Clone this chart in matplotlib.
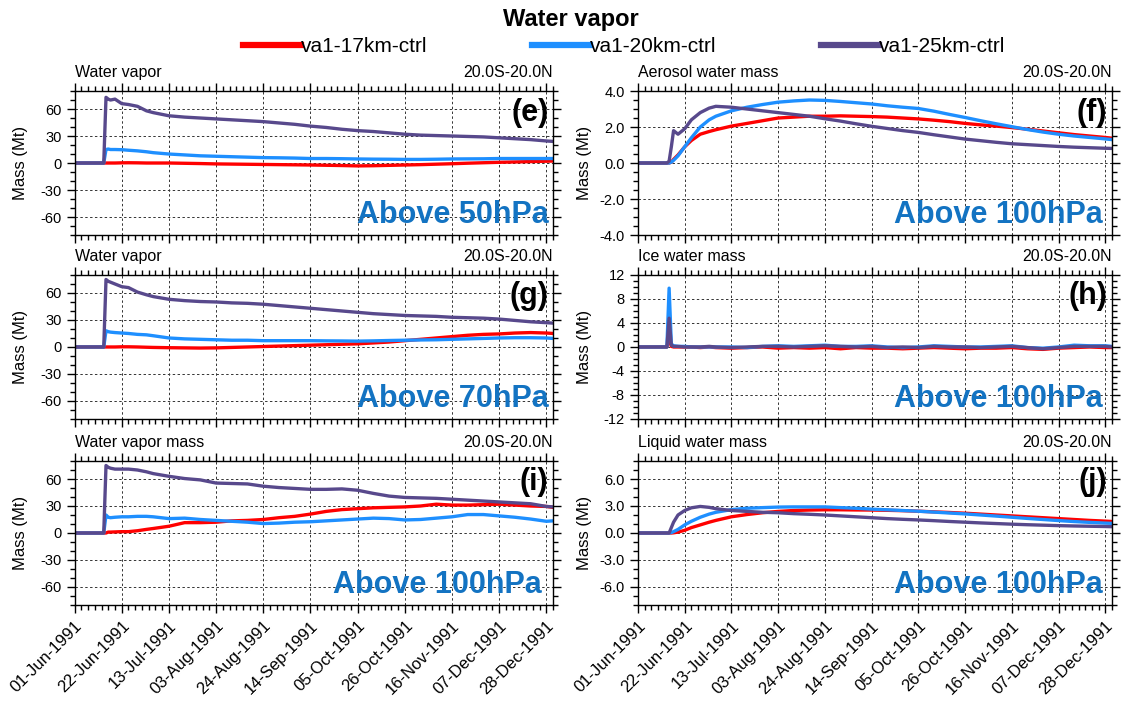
import matplotlib
matplotlib.use('Agg')
import matplotlib.pyplot as plt
from matplotlib.lines import Line2D
from matplotlib.ticker import MultipleLocator, FormatStrFormatter

plt.rcParams['font.family'] = ['Liberation Sans', 'DejaVu Sans']

runs = ['va1-17km-ctrl', 'va1-20km-ctrl', 'va1-25km-ctrl']
colors = ['#ff0000', '#1e8fff', '#58498c']

# days since 01-Jun-1991
day = [0, 13, 14, 15, 16, 18, 21, 24, 28, 32, 35, 42, 49, 56, 63, 70, 77, 84, 91,
       98, 105, 112, 119, 126, 133, 140, 147, 154, 161, 168, 175, 182, 189, 196,
       203, 210, 213]

tick_days = [0, 21, 42, 63, 84, 105, 126, 147, 168, 189, 210]
tick_labels = ['01-Jun-1991', '22-Jun-1991', '13-Jul-1991', '03-Aug-1991',
               '24-Aug-1991', '14-Sep-1991', '05-Oct-1991', '26-Oct-1991',
               '16-Nov-1991', '07-Dec-1991', '28-Dec-1991']

# (e) water vapor above 50hPa
e_17 = [0, 0, 0, 0, 0, 0, 0.2, 0.3, 0.2, 0, 0, 0, -0.3, -0.6, -1, -1.2, -1.4, -1.6,
        -1.8, -2, -2.2, -2.5, -2.8, -3.2, -3, -2.6, -2.2, -1.8, -1.3, -0.8, -0.2,
        0.3, 0.8, 1.2, 1.6, 2, 2.2]
e_20 = [0, 0, 15, 15.5, 15, 15, 14.8, 14.2, 13.5, 12.5, 11.5, 10, 9, 8, 7.5, 7,
        6.5, 6, 5.8, 5.5, 5, 5, 4.8, 4.5, 4.3, 4.2, 4, 4, 4.2, 4.5, 4.6, 4.7, 5, 5,
        5, 5, 5]
e_25 = [0, 0, 73, 71, 70, 71, 66, 65, 63, 58, 56, 52.5, 51, 50, 49, 48, 47, 46,
        44.5, 43, 41, 39.5, 37.5, 36, 35, 33.5, 32, 31, 30.5, 30, 29.5, 29, 28, 27,
        26, 24.5, 24]

# (g) water vapor above 70hPa
g_17 = [0, 0, 0, 0, 0, 0, 0.2, 0.2, 0, -0.3, -0.5, -0.8, -1, -1.2, -1, -0.5, 0,
        0.5, 1, 1.5, 2, 2.5, 3, 3.5, 4.5, 5.5, 7, 8.5, 10, 11.5, 13, 14, 14.5, 15.5,
        16, 15.5, 15]
g_20 = [0, 0, 18, 17, 16.5, 16, 15.5, 15, 14, 13.5, 12.5, 10, 9, 8.5, 8, 7.5, 7.5,
        7, 7, 7, 7, 6.8, 6.7, 6.5, 6.8, 7.2, 7.5, 7.8, 8, 8.5, 9, 9.5, 10, 10.3,
        10.3, 10, 9.5]
g_25 = [0, 0, 75, 73, 72, 70, 67, 66, 61, 58, 56, 53, 51.5, 50.5, 50, 49, 48.5,
        47.5, 46, 44.5, 43, 41.5, 40, 38.5, 37, 36, 35, 34.5, 34, 33, 32.5, 32, 31,
        29.5, 28, 27, 26.5]

# (i) water vapor mass above 100hPa
i_17 = [0, 0, 0, 1, 1, 1.2, 1.5, 1.5, 2.5, 4, 5, 7.5, 11.5, 11.5, 12, 13.5, 14,
        15, 17, 18.5, 21, 24, 26, 27, 28, 28.5, 29, 30, 32, 31, 31, 31.5, 32, 31,
        30, 29.5, 28.5]
i_20 = [0, 0, 20, 17.5, 17, 17.5, 18, 18, 18.5, 18.5, 18, 16, 16.5, 15, 14, 13,
        12, 10.5, 11, 12, 12.5, 13.5, 14.5, 15.5, 16.5, 16, 14.5, 15, 16.5, 18,
        20.5, 20.5, 19, 17.5, 15.5, 13, 13.5]
i_25 = [0, 0, 75, 73, 72, 71, 71, 71, 70, 68, 66, 63, 60.5, 59, 55.5, 55, 54.5,
        52, 50.5, 49.5, 48.5, 48.5, 49, 47.5, 44, 41, 39.5, 39, 38.5, 37.5, 36.5,
        35.5, 34.5, 33.5, 32.5, 29.5, 29]

# (f) aerosol water mass above 100hPa
f_17 = [0, 0, 0, 0.05, 0.2, 0.45, 0.9, 1.25, 1.6, 1.75, 1.85, 2.05, 2.2, 2.35,
        2.5, 2.55, 2.6, 2.6, 2.62, 2.6, 2.58, 2.55, 2.5, 2.45, 2.38, 2.3, 2.2,
        2.12, 2.05, 1.97, 1.88, 1.78, 1.68, 1.58, 1.5, 1.42, 1.38]
f_20 = [0, 0, 0, 0.05, 0.15, 0.4, 0.9, 1.4, 2.0, 2.4, 2.6, 2.9, 3.1, 3.25, 3.38,
        3.45, 3.5, 3.48, 3.42, 3.35, 3.28, 3.18, 3.1, 3.03, 2.88, 2.7, 2.53, 2.35,
        2.18, 2.02, 1.86, 1.72, 1.6, 1.5, 1.42, 1.34, 1.3]
f_25 = [0, 0, 0.1, 0.9, 1.8, 1.6, 1.9, 2.4, 2.8, 3.05, 3.15, 3.1, 3.0, 2.9, 2.8,
        2.7, 2.6, 2.46, 2.33, 2.18, 2.04, 1.92, 1.8, 1.7, 1.57, 1.45, 1.33, 1.24,
        1.15, 1.07, 1.02, 0.97, 0.92, 0.88, 0.85, 0.82, 0.81]

# (h) ice water mass above 100hPa
h_17 = [0, 0, 1.5, 0.1, 0, 0, 0, 0, -0.1, 0, -0.1, -0.2, -0.1, 0, -0.2, -0.1,
        -0.2, -0.1, -0.3, -0.1, -0.2, -0.2, -0.3, -0.2, -0.1, -0.2, -0.3, -0.2,
        -0.2, -0.1, -0.3, -0.4, -0.2, -0.1, 0, -0.1, -0.1]
h_20 = [0, 0, 9.8, 0.5, 0.2, 0.1, 0.1, 0, 0, 0, 0, 0, -0.1, 0.1, 0.2, 0.1, 0.2,
        0.3, 0.1, 0.1, 0.2, 0, -0.1, 0, 0.2, 0.1, 0, 0, 0.1, 0.2, -0.1, -0.2, 0,
        0.3, 0.2, 0.2, 0.1]
h_25 = [0, 0, 4.8, 0.3, 0.1, 0.1, 0, 0, 0, 0.1, 0, -0.1, 0, 0.1, 0.1, 0, 0.1,
        0.2, 0.1, 0, 0.1, -0.1, 0, -0.1, 0.1, 0, 0, -0.1, 0, 0.1, -0.1, -0.3, -0.1,
        0.1, 0.1, 0.1, 0]

# (j) liquid water mass above 100hPa
j_17 = [0, 0, 0, 0, 0.02, 0.1, 0.3, 0.6, 0.9, 1.2, 1.4, 1.8, 2.05, 2.25, 2.4,
        2.5, 2.55, 2.58, 2.58, 2.56, 2.55, 2.52, 2.48, 2.42, 2.35, 2.28, 2.2, 2.1,
        2.0, 1.9, 1.8, 1.7, 1.6, 1.5, 1.4, 1.32, 1.28]
j_20 = [0, 0, 0, 0.05, 0.15, 0.4, 0.9, 1.3, 1.75, 2.1, 2.3, 2.6, 2.75, 2.82,
        2.88, 2.9, 2.9, 2.9, 2.82, 2.75, 2.65, 2.58, 2.5, 2.42, 2.32, 2.22, 2.12,
        2.0, 1.88, 1.75, 1.62, 1.5, 1.38, 1.27, 1.18, 1.1, 1.07]
j_25 = [0, 0, 0, 0.6, 1.2, 2.0, 2.5, 2.8, 2.95, 2.85, 2.7, 2.5, 2.4, 2.3, 2.25,
        2.15, 2.08, 2.0, 1.9, 1.8, 1.7, 1.6, 1.52, 1.45, 1.37, 1.28, 1.2, 1.12,
        1.05, 0.98, 0.92, 0.87, 0.82, 0.78, 0.75, 0.72, 0.7]

left_x, left_w = 0.0665, 0.4269
right_x, right_w = 0.5691, 0.4228
row_y = [0.669, 0.4099, 0.1479]
row_h = 0.2028
label_blue = '#1373c2'

# title, series, ylim, major step, minor step, tick format, tag, level, level x, position
panels = [
    ('Water vapor', (e_17, e_20, e_25), (-80, 80), 30, 10, '%d', '(e)',
     'Above 50hPa', 0.99, (left_x, row_y[0], left_w, row_h)),
    ('Aerosol water mass', (f_17, f_20, f_25), (-4, 4), 2, 0.5, '%.1f', '(f)',
     'Above 100hPa', 0.98, (right_x, row_y[0], right_w, row_h)),
    ('Water vapor', (g_17, g_20, g_25), (-80, 80), 30, 10, '%d', '(g)',
     'Above 70hPa', 0.99, (left_x, row_y[1], left_w, row_h)),
    ('Ice water mass', (h_17, h_20, h_25), (-12, 12), 4, 1, '%d', '(h)',
     'Above 100hPa', 0.98, (right_x, row_y[1], right_w, row_h)),
    ('Water vapor mass', (i_17, i_20, i_25), (-80, 80), 30, 10, '%d', '(i)',
     'Above 100hPa', 0.977, (left_x, row_y[2], left_w, row_h)),
    ('Liquid water mass', (j_17, j_20, j_25), (-8, 8), 3, 1, '%.1f', '(j)',
     'Above 100hPa', 0.98, (right_x, row_y[2], right_w, row_h)),
]

fig = plt.figure(figsize=(11.21, 7.10), dpi=100)

for k, (title, series, ylim, major, minor, fmt, tag, level, lx, pos) in enumerate(panels):
    ax = fig.add_axes(pos)
    for vals, c in zip(series, colors):
        ax.plot(day, vals, color=c, lw=2.4, solid_capstyle='round')

    ax.set_xlim(0, 213)
    ax.set_ylim(*ylim)
    ax.set_xticks(tick_days)
    ax.xaxis.set_minor_locator(MultipleLocator(3))
    ax.yaxis.set_major_locator(MultipleLocator(major))
    ax.yaxis.set_minor_locator(MultipleLocator(minor))
    ax.yaxis.set_major_formatter(FormatStrFormatter(fmt))
    ax.tick_params(which='both', direction='out', top=True, right=True, width=1)
    ax.tick_params(which='major', length=6)
    ax.tick_params(which='minor', length=3.5)
    ax.tick_params(axis='y', labelsize=10.5)
    ax.grid(True, which='major', ls=(0, (2.5, 2.5)), lw=0.7, color='#333333')
    for sp in ax.spines.values():
        sp.set_linewidth(1.0)

    if k >= 4:
        ax.set_xticklabels(tick_labels, rotation=45, ha='right',
                           rotation_mode='anchor', fontsize=12)
    else:
        ax.tick_params(axis='x', labelbottom=False)

    ax.set_ylabel('Mass (Mt)', fontsize=12)
    ax.yaxis.set_label_coords(-0.098, 0.5)

    ax.text(0.0, 1.095, title, transform=ax.transAxes, fontsize=11.5,
            va='baseline', ha='left')
    ax.text(1.0, 1.095, '20.0S-20.0N', transform=ax.transAxes, fontsize=11.5,
            va='baseline', ha='right')
    ax.text(0.99, 0.955, tag, transform=ax.transAxes, fontsize=22,
            weight='bold', va='top', ha='right')
    ax.text(lx, 0.085, level, transform=ax.transAxes, fontsize=22,
            weight='bold', color=label_blue, va='baseline', ha='right')

fig.text(0.509, 0.972, 'Water vapor', ha='center', va='center', fontsize=17,
         weight='bold')

handles = [Line2D([], [], color=c, lw=4.5) for c in colors]
fig.legend(handles, runs, loc='center', bbox_to_anchor=(0.557, 0.934), ncol=3,
           frameon=False, handlelength=2.8, handletextpad=0.0, columnspacing=5,
           fontsize=15)

fig.savefig('out.png', dpi=100)
